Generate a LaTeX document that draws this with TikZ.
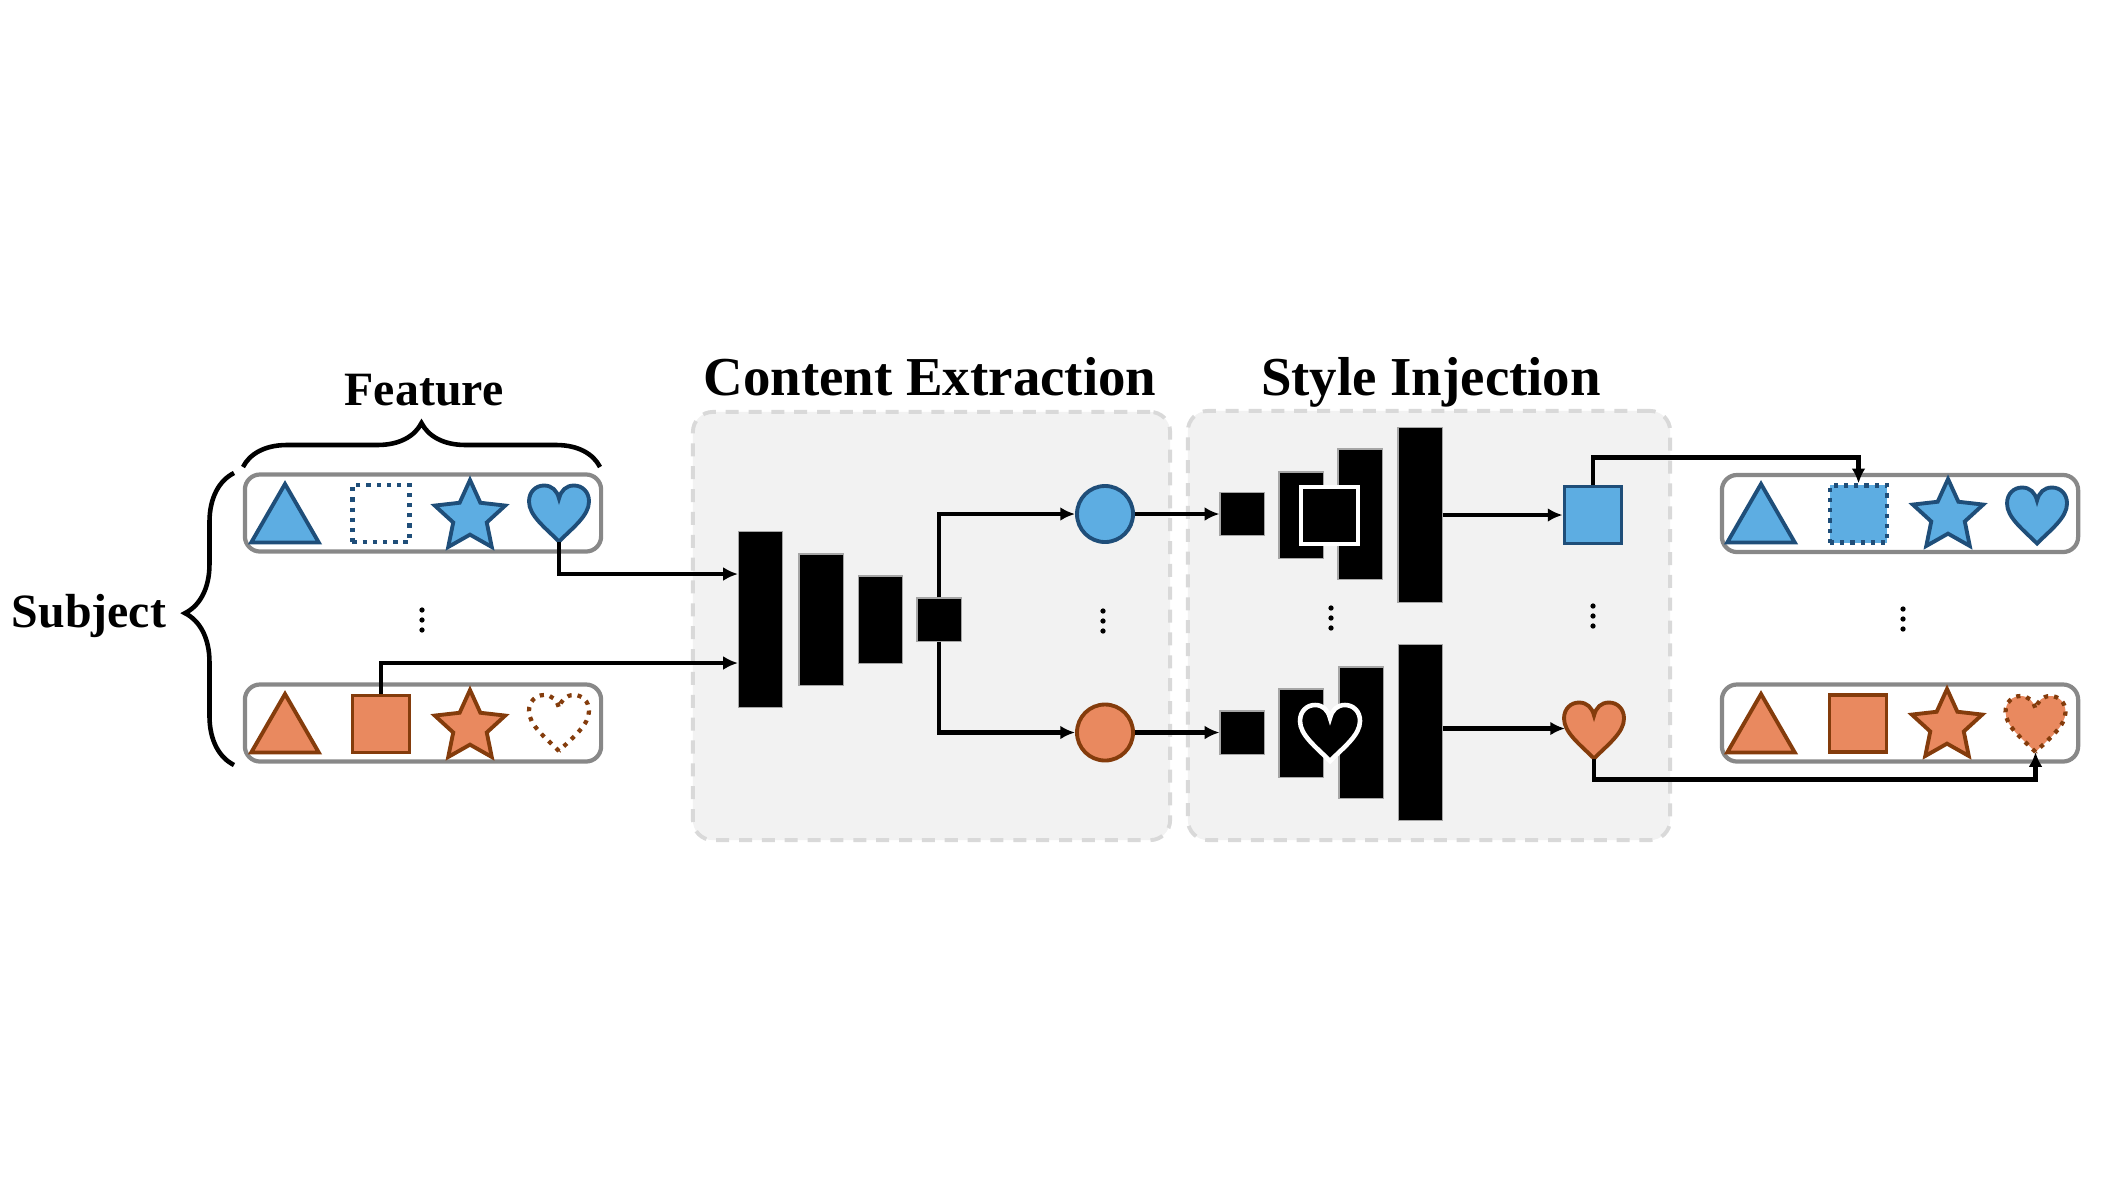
\documentclass[tikz,border=0pt]{standalone}
\usepackage{fontspec}
\setmainfont{Liberation Serif}
\usetikzlibrary{positioning,shapes.geometric,arrows.meta,decorations.pathreplacing}

\definecolor{bluefill}{RGB}{93,173,226}
\definecolor{bluedark}{RGB}{31,78,121}
\definecolor{orangefill}{RGB}{233,137,95}
\definecolor{orangedark}{RGB}{132,60,12}
\definecolor{boxgray}{RGB}{136,136,136}
\definecolor{panelfill}{RGB}{242,242,242}
\definecolor{panelline}{RGB}{217,217,217}

\tikzset{
  panel/.style={draw=panelline, fill=panelfill, line width=1.1pt, dash pattern=on 3.7pt off 2.8pt, rounded corners=5.7pt},
  paneltitle/.style={font=\fontsize{15.6}{18}\selectfont\bfseries, anchor=base, inner sep=0pt},
  sidelabel/.style={font=\fontsize{13.6}{16}\selectfont\bfseries, anchor=base, inner sep=0pt},
  rowbox/.style={draw=boxgray, line width=1.2pt, rounded corners=4.3pt, minimum width=3.56cm, minimum height=0.77cm},
  blueicon/.style={draw=bluedark, fill=bluefill, line width=1.1pt},
  orangeicon/.style={draw=orangedark, fill=orangefill, line width=1.1pt},
  dotline/.style={line width=1.2pt, dash pattern=on 1.2pt off 1.7pt},
  tri/.style={regular polygon, regular polygon sides=3, minimum size=0.78cm, inner sep=0pt},
  sq/.style={rectangle, minimum size=0.57cm, inner sep=0pt},
  fivestar/.style={star, star points=5, star point ratio=2.1, minimum size=0.74cm, inner sep=0pt},
  enclayer/.style={fill=black, draw=gray!70, line width=0.3pt, inner sep=0pt, minimum width=0.44cm},
  arr/.style={-{Latex[length=4.2pt,width=3.9pt]}, line width=1.4pt},
  brace/.style={decorate, line width=1.3pt},
  heart/.pic={
    \path[pic actions] (0,28) .. controls (-14,14) and (-30,2) .. (-30,-12)
      .. controls (-30,-22) and (-23,-28) .. (-15,-28)
      .. controls (-7,-28) and (-2,-23) .. (0,-15)
      .. controls (2,-23) and (7,-28) .. (15,-28)
      .. controls (23,-28) and (30,-22) .. (30,-12)
      .. controls (30,2) and (14,14) .. (0,28) -- cycle;
    \coordinate (-s) at (0,28);
    \coordinate (-w) at (-29,-2);
  },
  vdots/.pic={
    \foreach \d in {-10,0,10} \fill (0,\d) circle[radius=0.75pt];
  }
}

\begin{document}
\begin{tikzpicture}[x=0.01cm, y=-0.01cm]
  \useasboundingbox (0,0) rectangle (2104,1184);

  % Panels
  \node[panel, minimum width=4.77cm, minimum height=4.28cm] (p1) at (931.5,626) {};
  \node[panel, minimum width=4.82cm, minimum height=4.29cm] (p2) at (1429,625.5) {};
  \node[paneltitle] (t1) at (930,395) {Content Extraction};
  \node[paneltitle] (t2) at (1431,395) {Style Injection};

  % Input rows
  \node[rowbox] (in-a) at (423,513) {};
  \node[rowbox] (in-b) at (423,723) {};
  \node[tri, blueicon] (a-tri) at (285,523) {};
  \node[sq, draw=bluedark, dotline] (a-sq) at (381,513.5) {};
  \node[fivestar, blueicon] (a-star) at (470,517) {};
  \pic[blueicon] (a-heart) at (559,513.5) {heart};
  \node[tri, orangeicon] (b-tri) at (285,733) {};
  \node[sq, orangeicon] (b-sq) at (381,724) {};
  \node[fivestar, orangeicon] (b-star) at (470,727) {};
  \pic[draw=orangedark, dotline] (b-heart) at (559,723) {heart};
  \pic (d-in) at (422,620) {vdots};

  % Braces
  \node[sidelabel] (feat) at (424,405) {Feature};
  \node[sidelabel] (subj) at (89,627) {Subject};
  \draw[brace, decoration={brace, amplitude=0.44cm}] (243,467) -- (600,467);
  \draw[brace, decoration={brace, amplitude=0.49cm, aspect=0.52}] (234,765) -- (234,473);

  % Content extraction
  \node[enclayer, minimum height=1.75cm] (e1) at (760.5,619.5) {};
  \node[enclayer, minimum height=1.31cm] (e2) at (821,619.5) {};
  \node[enclayer, minimum height=0.87cm] (e3) at (880.5,619.5) {};
  \node[enclayer, minimum height=0.43cm] (bn) at (939,619.5) {};
  \node[circle, blueicon, minimum size=0.56cm, inner sep=0pt] (ca) at (1105,514) {};
  \node[circle, orangeicon, minimum size=0.56cm, inner sep=0pt] (cb) at (1105,732.5) {};
  \pic (d-ce) at (1103,621) {vdots};
  \coordinate (in1) at (738,574);
  \coordinate (in2) at (738,663);

  % Style injection
  \node[enclayer, minimum height=0.43cm] (s1) at (1242,514) {};
  \node[enclayer, minimum height=0.86cm] (da1) at (1301,515) {};
  \node[enclayer, minimum height=1.30cm] (db1) at (1360,514) {};
  \node[enclayer, minimum height=1.74cm] (dc1) at (1420,515) {};
  \node[sq, draw=white, fill=black, line width=1.3pt] (wsq) at (1329.5,515.5) {};
  \node[enclayer, minimum height=0.43cm] (s2) at (1242,732.5) {};
  \node[enclayer, minimum height=0.88cm] (da2) at (1301,733) {};
  \node[enclayer, minimum height=1.31cm] (db2) at (1361,732.5) {};
  \node[enclayer, minimum height=1.75cm] (dc2) at (1420.5,732.5) {};
  \pic[draw=white, fill=black, line width=1.3pt] (wh) at (1330,733) {heart};
  \node[sq, blueicon] (oa) at (1593,515) {};
  \pic[orangeicon] (ob) at (1594,730.5) {heart};
  \pic (d-si1) at (1331,618) {vdots};
  \pic (d-si2) at (1593,616) {vdots};

  % Output rows
  \node[rowbox] (out-a) at (1900,513.5) {};
  \node[rowbox] (out-b) at (1900,723) {};
  \node[tri, blueicon] (ra-tri) at (1761,523) {};
  \node[sq, blueicon, dotline] (ra-sq) at (1858.5,514) {};
  \node[fivestar, blueicon] (ra-star) at (1948,516) {};
  \pic[blueicon] (ra-heart) at (2037,515.5) {heart};
  \node[tri, orangeicon] (rb-tri) at (1761,733) {};
  \node[sq, orangeicon] (rb-sq) at (1858,723.5) {};
  \node[fivestar, orangeicon] (rb-star) at (1947,726) {};
  \pic[orangeicon, dotline] (rb-heart) at (2035.5,724) {heart};
  \pic (d-out) at (1903,619) {vdots};

  % Connectors
  \draw[arr] (a-heart-s) |- (in1);
  \draw[arr] (b-sq.north) |- (in2);
  \draw[arr] (bn.north) |- (ca.west);
  \draw[arr] (bn.south) |- (cb.west);
  \draw[arr] (ca.east) -- (s1.west);
  \draw[arr] (cb.east) -- (s2.west);
  \draw[arr] (dc1.east) -- (oa.west);
  \draw[arr] (dc2.east |- ob-w) -- (ob-w);
  \draw[arr] (oa.north) -- ++(0,-27) -| (ra-sq.north);
  \draw[arr] (ob-s) -- ++(0,21) -| (rb-heart-s);
\end{tikzpicture}
\end{document}
